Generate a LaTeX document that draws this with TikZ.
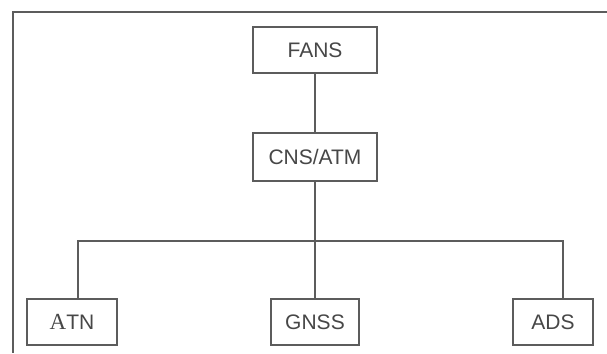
\documentclass[tikz,border=0pt]{standalone}
\usepackage{fontspec}
\setmainfont{Liberation Sans}
\newfontfamily\serifA{Liberation Serif}
\definecolor{linegray}{HTML}{5C5C5C}
\definecolor{textgray}{HTML}{474747}
\begin{document}
\begin{tikzpicture}[x=1pt,y=-1pt,
  blk/.style={draw=linegray, line width=1.1pt, fill=white, text=textgray,
    font=\fontsize{21}{23}\selectfont, inner sep=0pt, minimum height=46pt},
  wire/.style={draw=linegray, line width=1.1pt}]
  \fill[white] (0,0) rectangle (607,353);
  \useasboundingbox (0,0) rectangle (607,353);
  % outer frame (open on the right and bottom)
  \draw[wire] (607,12) -- (13,12) -- (13,353);
  % blocks
  \node[blk, minimum width=124pt] (fans) at (315,50) {FANS};
  \node[blk, minimum width=124pt, minimum height=48pt] (cns) at (315,157) {CNS/ATM};
  \node[blk, minimum width=90pt] (atn) at (72,322) {{\serifA\fontsize{23}{23}\selectfont A}TN};
  \node[blk, minimum width=88pt] (gnss) at (315,322) {GNSS};
  \node[blk, minimum width=80pt] (ads) at (553,322) {ADS};
  % connectors
  \coordinate (bus) at (315,241);
  \draw[wire] (fans) -- (cns);
  \draw[wire] (cns.south) -- (gnss.north);
  \draw[wire] ([xshift=6pt]atn.north) |- (bus);
  \draw[wire] ([xshift=10pt]ads.north) |- (bus);
\end{tikzpicture}
\end{document}
